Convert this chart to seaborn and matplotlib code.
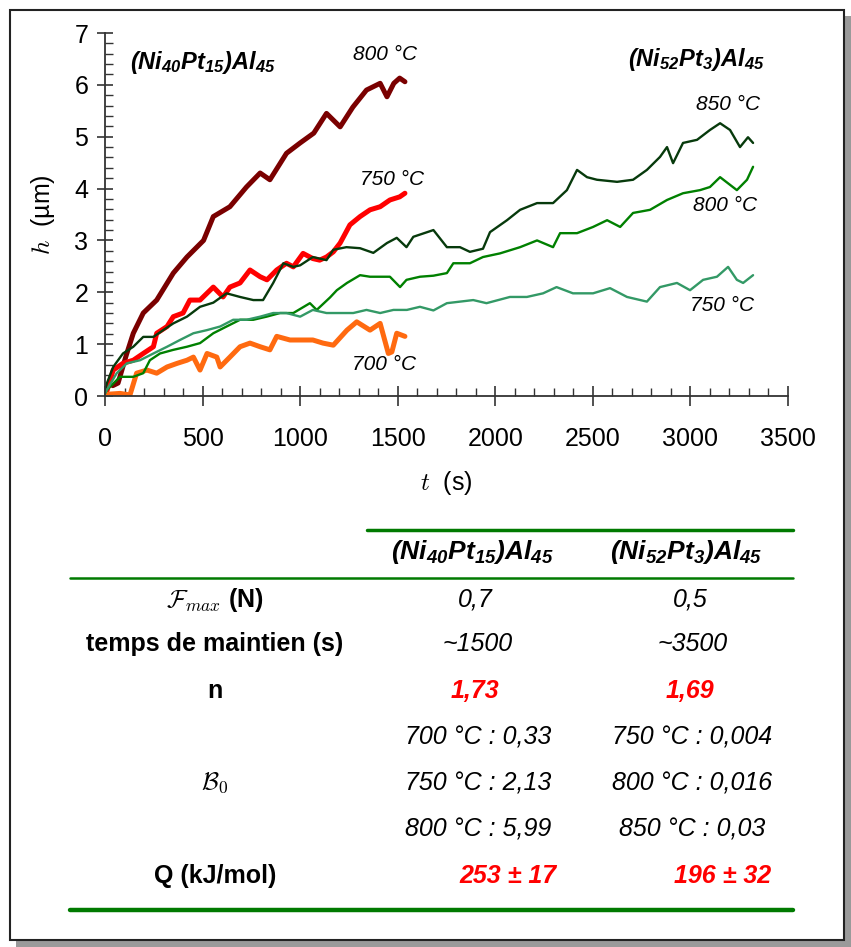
import numpy as np
import pandas as pd
import matplotlib.pyplot as plt
import seaborn as sns
from matplotlib.patches import Rectangle
from matplotlib.lines import Line2D
from matplotlib.ticker import MultipleLocator

# valeurs : t (s), h (um)
# (Ni40Pt15)Al45
t_a800 = [40, 67, 110, 145, 196, 265, 350, 420, 505, 555, 640, 725, 795, 845, 930, 1000, 1070,
          1135, 1205, 1270, 1340, 1410, 1445, 1480, 1510, 1537]
h_a800 = [0.2, 0.25, 0.8, 1.21, 1.6, 1.85, 2.37, 2.68, 3.0, 3.46, 3.65, 4.03, 4.3, 4.17, 4.68, 4.88, 5.07,
          5.45, 5.19, 5.57, 5.9, 6.03, 5.77, 6.03, 6.13, 6.06]
t_a750 = [0, 10, 42, 92, 145, 196, 248, 265, 318, 350, 400, 435, 487, 555, 605, 640, 692, 743, 795, 830,
          880, 930, 965, 1015, 1065, 1100, 1135, 1170, 1205, 1255, 1307, 1358, 1410, 1460, 1510, 1537]
h_a750 = [0.05, 0.1, 0.5, 0.63, 0.69, 0.82, 0.95, 1.21, 1.34, 1.53, 1.6, 1.85, 1.85, 2.1, 1.91, 2.1, 2.18,
          2.43, 2.3, 2.24, 2.43, 2.56, 2.49, 2.75, 2.65, 2.62, 2.68, 2.78, 2.95, 3.3, 3.46, 3.59, 3.65,
          3.78, 3.84, 3.91]
t_a700 = [0, 77, 128, 162, 215, 265, 318, 370, 420, 453, 487, 523, 573, 590, 640, 692, 743, 795, 845,
          880, 948, 1000, 1065, 1117, 1170, 1240, 1290, 1358, 1410, 1452, 1470, 1495, 1537]
h_a700 = [0.03, 0.05, 0.02, 0.44, 0.5, 0.44, 0.56, 0.63, 0.69, 0.75, 0.5, 0.82, 0.75, 0.56, 0.75, 0.95,
          1.02, 0.95, 0.89, 1.15, 1.08, 1.08, 1.08, 1.02, 0.98, 1.27, 1.43, 1.27, 1.4, 0.82, 0.85, 1.21,
          1.15]

# (Ni52Pt3)Al45
t_b850 = [0, 10, 42, 92, 145, 196, 248, 298, 350, 420, 487, 555, 623, 692, 760, 810, 862, 914, 965,
          1000, 1065, 1135, 1170, 1237, 1307, 1375, 1445, 1495, 1545, 1580, 1683, 1752, 1819, 1870,
          1937, 1973, 2060, 2127, 2214, 2296, 2367, 2419, 2470, 2521, 2624, 2706, 2777, 2844, 2880,
          2911, 2962, 3034, 3100, 3152, 3203, 3254, 3295, 3321]
h_b850 = [0.1, 0.25, 0.56, 0.82, 0.95, 1.14, 1.14, 1.27, 1.4, 1.53, 1.72, 1.8, 1.98, 1.91, 1.85, 1.85,
          2.18, 2.56, 2.49, 2.52, 2.68, 2.62, 2.82, 2.87, 2.85, 2.76, 2.95, 3.05, 2.87, 3.07, 3.2, 2.87,
          2.87, 2.78, 2.84, 3.16, 3.39, 3.59, 3.72, 3.72, 3.97, 4.36, 4.22, 4.17, 4.13, 4.17, 4.36, 4.61,
          4.8, 4.49, 4.88, 4.94, 5.13, 5.26, 5.13, 4.8, 4.99, 4.88]
t_b800 = [0, 10, 77, 145, 196, 230, 282, 350, 420, 487, 555, 623, 692, 760, 828, 897, 965, 1050, 1085,
          1153, 1188, 1240, 1307, 1358, 1410, 1460, 1512, 1545, 1614, 1683, 1752, 1785, 1870, 1937,
          2024, 2127, 2214, 2296, 2332, 2419, 2501, 2573, 2640, 2706, 2793, 2880, 2962, 3049, 3100,
          3152, 3238, 3290, 3321]
h_b800 = [0.05, 0.12, 0.37, 0.37, 0.44, 0.69, 0.82, 0.89, 0.95, 1.02, 1.21, 1.34, 1.47, 1.47, 1.53, 1.6,
          1.6, 1.79, 1.66, 1.9, 2.04, 2.18, 2.33, 2.3, 2.3, 2.3, 2.1, 2.24, 2.3, 2.32, 2.37, 2.56, 2.56,
          2.68, 2.75, 2.87, 3.0, 2.87, 3.14, 3.14, 3.26, 3.39, 3.26, 3.53, 3.59, 3.78, 3.91, 3.97, 4.03,
          4.22, 3.97, 4.17, 4.42]
t_b750 = [0, 10, 60, 112, 180, 248, 318, 384, 453, 522, 590, 657, 726, 795, 862, 930, 1000, 1065, 1135,
          1205, 1272, 1340, 1410, 1478, 1547, 1614, 1683, 1752, 1887, 1955, 2075, 2162, 2245, 2314,
          2398, 2501, 2588, 2675, 2777, 2844, 2931, 2998, 3065, 3136, 3193, 3238, 3270, 3321]
h_b750 = [0.05, 0.12, 0.44, 0.63, 0.69, 0.82, 0.95, 1.08, 1.21, 1.27, 1.34, 1.47, 1.47, 1.53, 1.6, 1.6,
          1.53, 1.66, 1.6, 1.6, 1.6, 1.66, 1.6, 1.66, 1.66, 1.72, 1.65, 1.79, 1.85, 1.79, 1.91, 1.91,
          1.98, 2.1, 1.98, 1.98, 2.08, 1.91, 1.82, 2.1, 2.18, 2.04, 2.24, 2.3, 2.49, 2.24, 2.18, 2.33]

series_a = {'a800': (t_a800, h_a800), 'a750': (t_a750, h_a750), 'a700': (t_a700, h_a700)}
series_b = {'b850': (t_b850, h_b850), 'b800': (t_b800, h_b800), 'b750': (t_b750, h_b750)}
pal_a = {'a800': '#7a0000', 'a750': '#ff0000', 'a700': '#ff6a10'}
pal_b = {'b850': '#073a0c', 'b800': '#008000', 'b750': '#339966'}

# tableau
col_heads = [r'(Ni$_{40}$Pt$_{15}$)Al$_{45}$', r'(Ni$_{52}$Pt$_{3}$)Al$_{45}$']
fmax = ['0,7', '0,5']
temps = ['~1500', '~3500']
n_vals = ['1,73', '1,69']
b0_a = ['700 °C : 0,33', '750 °C : 2,13', '800 °C : 5,99']
b0_b = ['750 °C : 0,004', '800 °C : 0,016', '850 °C : 0,03']
q_vals = ['253 ± 17', '196 ± 32']


def long_df(d):
    rows = []
    for k, (t, h) in d.items():
        rows.append(pd.DataFrame({'t': t, 'h': h, 'serie': k}))
    return pd.concat(rows, ignore_index=True)


sns.set_style('ticks')
plt.rcParams['font.family'] = ['Liberation Sans', 'DejaVu Sans']
plt.rcParams['text.color'] = 'black'
plt.rcParams['axes.labelcolor'] = 'black'
plt.rcParams['xtick.labelcolor'] = 'black'
plt.rcParams['ytick.labelcolor'] = 'black'
plt.rcParams['mathtext.fontset'] = 'custom'
plt.rcParams['mathtext.rm'] = 'Liberation Sans:bold:italic'
plt.rcParams['mathtext.it'] = 'Liberation Sans:bold:italic'
plt.rcParams['mathtext.default'] = 'rm'

W, H = 851, 947
fig = plt.figure(figsize=(W / 100, H / 100), dpi=100)


def fx(x):
    return x / W


def fy(y):
    return 1 - y / H


# cadre avec ombre
fig.add_artist(Rectangle((fx(16), fy(947)), fx(835), 931 / H, transform=fig.transFigure,
                         facecolor='#9a9a9a', edgecolor='none', zorder=0))
fig.add_artist(Rectangle((fx(10), fy(940)), fx(834), 930 / H, transform=fig.transFigure,
                         facecolor='white', edgecolor='#222222', lw=1.5, zorder=0))

ax = fig.add_axes([fx(105), fy(396), fx(683), 363 / H])
ax.set_facecolor('none')

sns.lineplot(data=long_df(series_a), x='t', y='h', hue='serie', palette=pal_a, lw=3.6,
             estimator=None, sort=False, legend=False, ax=ax)
sns.lineplot(data=long_df(series_b), x='t', y='h', hue='serie', palette=pal_b, lw=1.7,
             estimator=None, sort=False, legend=False, ax=ax)

ax.set_xlim(0, 3500)
ax.set_ylim(0, 7)
ax.xaxis.set_major_locator(MultipleLocator(500))
ax.xaxis.set_minor_locator(MultipleLocator(100))
ax.yaxis.set_major_locator(MultipleLocator(1))
ax.yaxis.set_minor_locator(MultipleLocator(0.2))
sns.despine(ax=ax)
for s in ['left', 'bottom']:
    ax.spines[s].set_color('#333333')
    ax.spines[s].set_linewidth(1.3)
ax.tick_params(axis='x', which='major', direction='inout', length=14, width=1.2,
               color='#333333', labelsize=18, pad=15)
ax.tick_params(axis='x', which='minor', direction='in', length=6, width=1, color='#333333')
ax.tick_params(axis='y', which='major', direction='inout', length=12, width=1.2,
               color='#333333', labelsize=18, pad=6)
ax.tick_params(axis='y', which='minor', direction='in', length=6, width=1, color='#333333')

ax.set_xlabel(r'$\mathit{t}$  (s)', fontsize=18, math_fontfamily='cm')
ax.set_ylabel(r'$\mathit{h}$  (µm)', fontsize=18, math_fontfamily='cm')
ax.xaxis.set_label_coords(0.5, -0.2)
ax.yaxis.set_label_coords(-0.07, 0.5)

lab = dict(fontsize=15, style='italic', color='black')
ax.text(128, 6.44, col_heads[0], ha='left', va='center', weight='bold', fontsize=17,
        style='italic')
ax.text(3382, 6.48, col_heads[1], ha='right', va='center', weight='bold', fontsize=17,
        style='italic')
ax.text(1435, 6.58, '800 °C', ha='center', va='center', **lab)
ax.text(1470, 4.17, '750 °C', ha='center', va='center', **lab)
ax.text(1430, 0.60, '700 °C', ha='center', va='center', **lab)
ax.text(3193, 5.63, '850 °C', ha='center', va='center', **lab)
ax.text(3177, 3.68, '800 °C', ha='center', va='center', **lab)
ax.text(3162, 1.74, '750 °C', ha='center', va='center', **lab)

# tableau sous le graphique
green = '#007a00'
fig.add_artist(Line2D([fx(367), fx(793)], [fy(530), fy(530)], color=green, lw=2.5))
fig.add_artist(Line2D([fx(70), fx(793)], [fy(578), fy(578)], color=green, lw=1.8))
fig.add_artist(Line2D([fx(70), fx(793)], [fy(910), fy(910)], color=green, lw=3.2))

xl, xa, xb = 215, 475, 690
fs = 18
fig.text(fx(472), fy(552), col_heads[0], ha='center', va='center', fontsize=19,
         style='italic', weight='bold')
fig.text(fx(686), fy(552), col_heads[1], ha='center', va='center', fontsize=19,
         style='italic', weight='bold')

fig.text(fx(xl), fy(600), r'$\mathcal{F}_{\mathit{max}}$ (N)', ha='center', va='center',
         fontsize=fs, weight='bold', math_fontfamily='cm')
fig.text(fx(xl), fy(644), 'temps de maintien (s)', ha='center', va='center', fontsize=fs,
         weight='bold')
fig.text(fx(xl), fy(691), 'n', ha='center', va='center', fontsize=fs, weight='bold')
fig.text(fx(xl), fy(783), r'$\mathcal{B}_{\mathit{0}}$', ha='center', va='center', fontsize=fs,
         math_fontfamily='cm')
fig.text(fx(xl), fy(876), 'Q (kJ/mol)', ha='center', va='center', fontsize=fs, weight='bold')

for x, a, b, c in [(xa, fmax[0], temps[0], n_vals[0]), (xb, fmax[1], temps[1], n_vals[1])]:
    fig.text(fx(x), fy(600), a, ha='center', va='center', fontsize=fs, style='italic')
    fig.text(fx(x + 3), fy(644), b, ha='center', va='center', fontsize=fs, style='italic')
    fig.text(fx(x), fy(691), c, ha='center', va='center', fontsize=fs, style='italic',
             weight='bold', color='#ff0000')
for i, y in enumerate([738, 783, 829]):
    fig.text(fx(478), fy(y), b0_a[i], ha='center', va='center', fontsize=fs, style='italic')
    fig.text(fx(692), fy(y), b0_b[i], ha='center', va='center', fontsize=fs, style='italic')
fig.text(fx(508), fy(876), q_vals[0], ha='center', va='center', fontsize=fs, style='italic',
         weight='bold', color='#ff0000')
fig.text(fx(723), fy(876), q_vals[1], ha='center', va='center', fontsize=fs, style='italic',
         weight='bold', color='#ff0000')

fig.savefig('out.png', dpi=100)
